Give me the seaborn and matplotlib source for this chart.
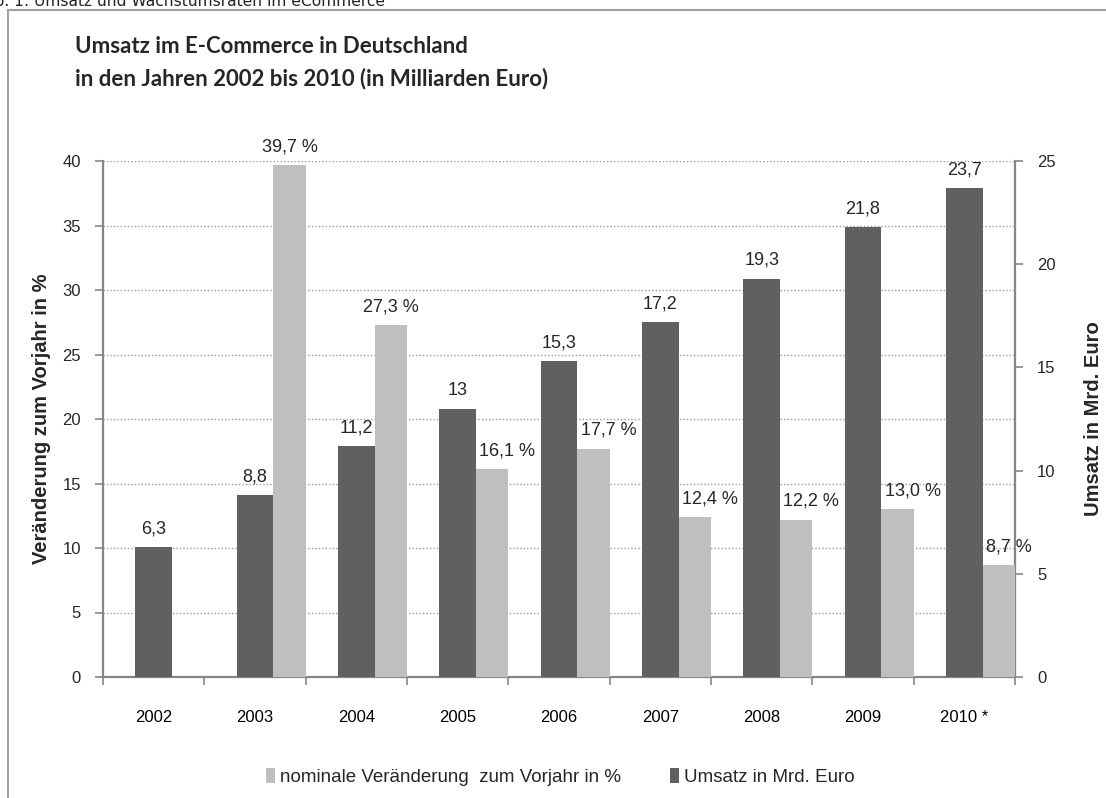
import numpy as np
import pandas as pd
import matplotlib
matplotlib.use("Agg")
import matplotlib.pyplot as plt
from matplotlib.patches import Patch, Rectangle
from matplotlib.ticker import MultipleLocator
import seaborn as sns

# ---- data ----
years = ["2002", "2003", "2004", "2005", "2006", "2007", "2008", "2009", "2010 *"]
umsatz = [6.3, 8.8, 11.2, 13.0, 15.3, 17.2, 19.3, 21.8, 23.7]          # Mrd. Euro
veraenderung = [np.nan, 39.7, 27.3, 16.1, 17.7, 12.4, 12.2, 13.0, 8.7]   # % zum Vorjahr

title = "Umsatz im E-Commerce in Deutschland\nin den Jahren 2002 bis 2010 (in Milliarden Euro)"
caption = "Abb. 1: Umsatz und Wachstumsraten im eCommerce"
ylabel_left = "Veränderung zum Vorjahr in %"
ylabel_right = "Umsatz in Mrd. Euro"
legend_labels = ["nominale Veränderung  zum Vorjahr in %", "Umsatz in Mrd. Euro"]

# label nudges (style only) for the % labels
light_label_dx = [0, 0, 0, 0.15, 0.15, 0.15, 0.15, 0.15, 0.1]

DARK = "#606060"
LIGHT = "#BFBFBF"
AXC = "#868686"

sns.set_theme(style="white")
plt.rcParams["font.family"] = ["Liberation Sans", "DejaVu Sans"]

fig = plt.figure(figsize=(11.06, 7.98), dpi=100)
W, H = 1106, 798
ax2 = fig.add_axes([103 / W, 1 - 677 / H, (1015 - 103) / W, (677 - 161) / H])
ax = ax2.twinx()  # primary (%) axis drawn on top
ax.yaxis.set_label_position("left")
ax.yaxis.set_ticks_position("left")
ax2.yaxis.set_label_position("right")
ax2.yaxis.set_ticks_position("right")

idx = np.arange(len(years))
df = pd.DataFrame({"pos": idx, "umsatz": umsatz, "ver": veraenderung})
df["pos_light"] = df["pos"] + 0.34

# dark bars (secondary axis, Mrd. Euro)
sns.barplot(data=df, x="pos", y="umsatz", native_scale=True, width=0.36,
            color=DARK, saturation=1, ax=ax2, edgecolor="none", zorder=3)
# light bars (primary axis, %)
sns.barplot(data=df.dropna(), x="pos_light", y="ver", native_scale=True, width=0.32,
            color=LIGHT, saturation=1, ax=ax, edgecolor="none", zorder=3)

for a in (ax, ax2):
    a.set_xlim(-0.5, len(years) - 0.5)
    a.grid(False)
ax.set_ylim(0, 40)
ax2.set_ylim(0, 25)
ax.yaxis.set_major_locator(MultipleLocator(5))
ax2.yaxis.set_major_locator(MultipleLocator(5))
ax.patch.set_visible(False)

# dotted gridlines of the % axis, drawn behind the bars (on the lower axes)
scale = 25 / 40
for yv in range(5, 45, 5):
    ax2.axhline(yv * scale, color="#9a9a9a", lw=1.0, ls=(0, (1, 1.5)), zorder=0)

# x ticks: labels at centers, tick marks at boundaries
ax2.set_xticks(idx)
ax2.set_xticklabels(years, fontsize=12, color="#000000")
ax2.set_xticks(np.arange(-0.5, len(years)), minor=True)
ax2.tick_params(axis="x", which="major", length=0, pad=24, bottom=True)
ax2.tick_params(axis="x", which="minor", length=6, width=1.2, color=AXC, direction="out", bottom=True)
ax.tick_params(axis="x", which="both", length=0, labelbottom=False)
ax.set_xlabel("")
ax2.set_xlabel("")

ax.tick_params(axis="y", length=6, width=1.2, color=AXC, direction="out", labelsize=12, pad=10,
               left=True, right=False, labelleft=True, labelright=False)
ax2.tick_params(axis="y", length=6, width=1.2, color=AXC, direction="out", labelsize=12, pad=10,
                right=True, left=False, labelright=True, labelleft=False)

for a in (ax, ax2):
    a.spines["top"].set_visible(False)
    for s in ["left", "right", "bottom"]:
        a.spines[s].set_color(AXC)
        a.spines[s].set_linewidth(1.6)
ax.spines["right"].set_visible(False)
ax.spines["bottom"].set_visible(False)
ax2.spines["left"].set_visible(False)
ax.spines["left"].set_visible(True)

ax.set_ylabel(ylabel_left, fontsize=14.5, fontweight="bold", labelpad=8)
ax2.set_ylabel(ylabel_right, fontsize=14.5, fontweight="bold", labelpad=20, rotation=90)

# value labels
def de(v, pct=False):
    if pct:
        return f"{v:.1f}".replace(".", ",") + " %"
    return f"{v:g}".replace(".", ",")

dark_labels = [de(v) for v in umsatz]
ax2.bar_label(ax2.containers[0], labels=dark_labels, padding=7, fontsize=13)

light_bars = list(ax.containers[0])
valid = [i for i, v in enumerate(veraenderung) if not np.isnan(v)]
for bar, i in zip(light_bars, valid):
    ax.annotate(de(veraenderung[i], True),
                xy=(bar.get_x() + bar.get_width() / 2 + light_label_dx[i], bar.get_height()),
                xytext=(0, 7), textcoords="offset points", ha="center", va="bottom", fontsize=13)

# title
fig.text(75 / W, 1 - 63 / H, title, fontsize=16, fontweight="bold", family=["Lato", "DejaVu Sans"],
         va="center", ha="left", linespacing=1.6)

# partially clipped caption at the very top
fig.text(-26 / W, 1 - 6 / H, caption, fontsize=11.2, family=["DejaVu Sans"], va="baseline",
         ha="left", color="#222222")

# outer frame
fig.patches.append(Rectangle((8 / W, -0.05), 1.2, 1 - 10 / H + 0.05, transform=fig.transFigure,
                             fill=False, edgecolor="#A0A0A0", lw=1.5))

# legend
handles = [Patch(facecolor=LIGHT, edgecolor="none"), Patch(facecolor=DARK, edgecolor="none")]
fig.legend(handles, legend_labels, loc="center", bbox_to_anchor=(560 / W, 1 - 777 / H), ncol=2,
           frameon=False, handlelength=0.5, handleheight=0.8, handletextpad=0.25,
           columnspacing=2.6, prop={"family": ["Liberation Sans"], "size": 13.5})

fig.savefig("out.png", dpi=100)
